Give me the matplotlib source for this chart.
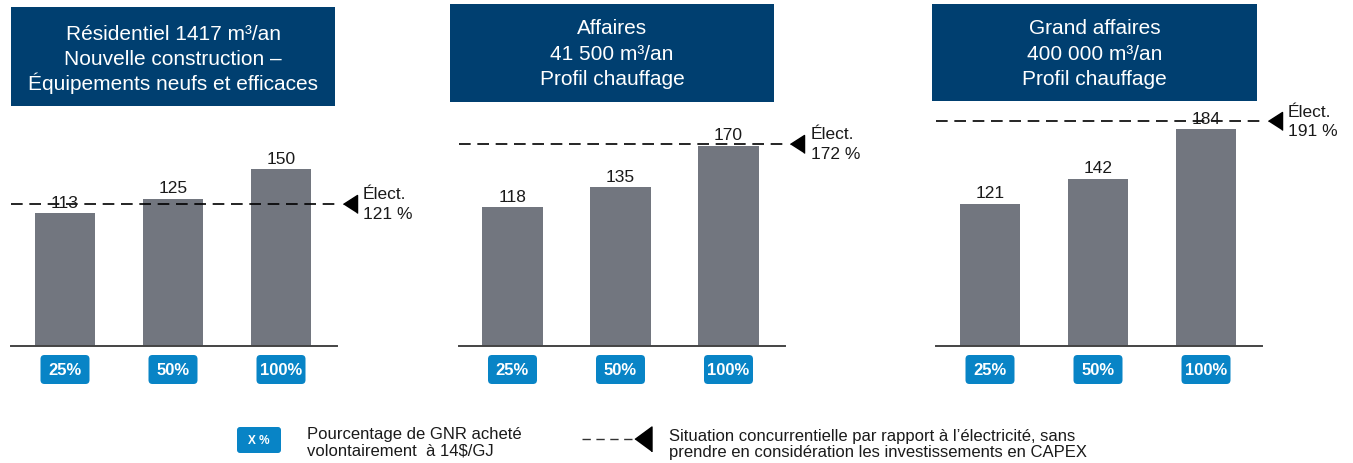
import matplotlib
matplotlib.use("Agg")
import matplotlib.pyplot as plt
from matplotlib.patches import FancyBboxPatch, Rectangle
from matplotlib.lines import Line2D
from matplotlib.transforms import ScaledTranslation

plt.rcParams['font.family'] = ['Liberation Sans', 'DejaVu Sans']

# data
titles = [
    ["Résidentiel 1417 m³/an", "Nouvelle construction –", "Équipements neufs et efficaces"],
    ["Affaires", "41 500 m³/an", "Profil chauffage"],
    ["Grand affaires", "400 000 m³/an", "Profil chauffage"],
]
categories = ["25%", "50%", "100%"]
values = [
    [113, 125, 150],
    [118, 135, 170],
    [121, 142, 184],
]
elect = [121, 172, 191]
elect_labels = ["Élect.\n121 %", "Élect.\n172 %", "Élect.\n191 %"]

legend_box_text = "X %"
legend_box_label = "Pourcentage de GNR acheté\nvolontairement  à 14$/GJ"
legend_line_label = ("Situation concurrentielle par rapport à l’électricité, sans\n"
                     "prendre en considération les investissements en CAPEX")

NAVY = "#003F70"
BAR = "#72767F"
BLUE = "#0884C6"

W, H = 1353, 464
fig = plt.figure(figsize=(W / 100, H / 100), dpi=100)

# layout in pixels (left of axes, title box, first title line centre)
ax_left = [11, 458.5, 936]
title_boxes = [(11, 8, 324, 99), (450, 5, 324, 98), (932, 5, 325, 97)]
title_first = [34, 29, 29]
line_step = 25.5
base_y = 347
ymax = 200
px_per_unit = 1.177
ax_h = ymax * px_per_unit

for k in range(3):
    # title box
    bx, by, bw, bh = title_boxes[k]
    fig.patches.append(Rectangle((bx / W, 1 - (by + bh) / H), bw / W, bh / H,
                                 transform=fig.transFigure, facecolor=NAVY,
                                 edgecolor="none"))
    for j, line in enumerate(titles[k]):
        yb = title_first[k] + j * line_step + 5.5  # baseline
        fig.text((bx + bw / 2) / W, 1 - yb / H, line, color="white",
                 fontsize=15, ha="center", va="baseline")

    ax = fig.add_axes([ax_left[k] / W, (H - base_y) / H, 324 / W, ax_h / H])
    ax.set_xlim(-0.5, 2.5)
    ax.set_ylim(0, ymax)
    ax.axis("off")
    x = range(len(categories))
    ax.bar(x, values[k], width=0.556, color=BAR)
    ax.plot([-0.5, 2.52], [0, 0], color="#444444", lw=1.4, clip_on=False)

    for i, v in enumerate(values[k]):
        ax.annotate(str(v), (i, v), xytext=(0, 2.5), textcoords="offset points",
                    ha="center", va="bottom", fontsize=12.5, color="#1a1a1a")
        tr = fig.dpi_scale_trans + ScaledTranslation(i, 0, ax.transData)
        ax.add_patch(FancyBboxPatch((-0.245, -0.38), 0.49, 0.29,
                                    boxstyle="round,pad=0,rounding_size=0.04",
                                    facecolor=BLUE, edgecolor="none",
                                    transform=tr, clip_on=False))
        ax.text(0, -0.235, categories[i], transform=tr, ha="center", va="center",
                color="white", fontsize=12, fontweight="bold", clip_on=False)

    # electricity reference line
    ax.plot([-0.5, 2.5], [elect[k], elect[k]], color="black", lw=1.2,
            dashes=(7, 4), clip_on=False)
    ax.plot([2.635], [elect[k]], marker=[(-0.78, 0), (0.78, 1), (0.78, -1)],
            ms=13, color="black", clip_on=False)
    ax.text(2.76, elect[k], elect_labels[k], ha="left", va="center",
            fontsize=12.5, color="#1a1a1a", linespacing=1.35, clip_on=False)

# legend
fig.patches.append(FancyBboxPatch((2.37, 0.10), 0.44, 0.26,
                                  boxstyle="round,pad=0,rounding_size=0.03",
                                  facecolor=BLUE, edgecolor="none",
                                  transform=fig.dpi_scale_trans))
fig.text(2.59 / (W / 100), 0.23 / (H / 100), legend_box_text, color="white",
         fontsize=8.5, fontweight="bold", ha="center", va="center")
fig.text(307 / W, 1 - 442.5 / H, legend_box_label, fontsize=12, ha="left",
         va="center", linespacing=1.1, color="#1a1a1a")

fig.lines.append(Line2D([582 / W, 636 / W], [1 - 440 / H, 1 - 440 / H],
                        transform=fig.transFigure, color="#333333", lw=1.0,
                        dashes=(6, 4)))
fig.lines.append(Line2D([643 / W], [1 - 440 / H], transform=fig.transFigure,
                        marker=[(-0.68, 0), (0.68, 1), (0.68, -1)], ms=18,
                        color="black", lw=0))
fig.text(669 / W, 1 - 444.5 / H, legend_line_label, fontsize=12, ha="left",
         va="center", linespacing=1.1, color="#1a1a1a")

fig.savefig("out.png", dpi=100)
